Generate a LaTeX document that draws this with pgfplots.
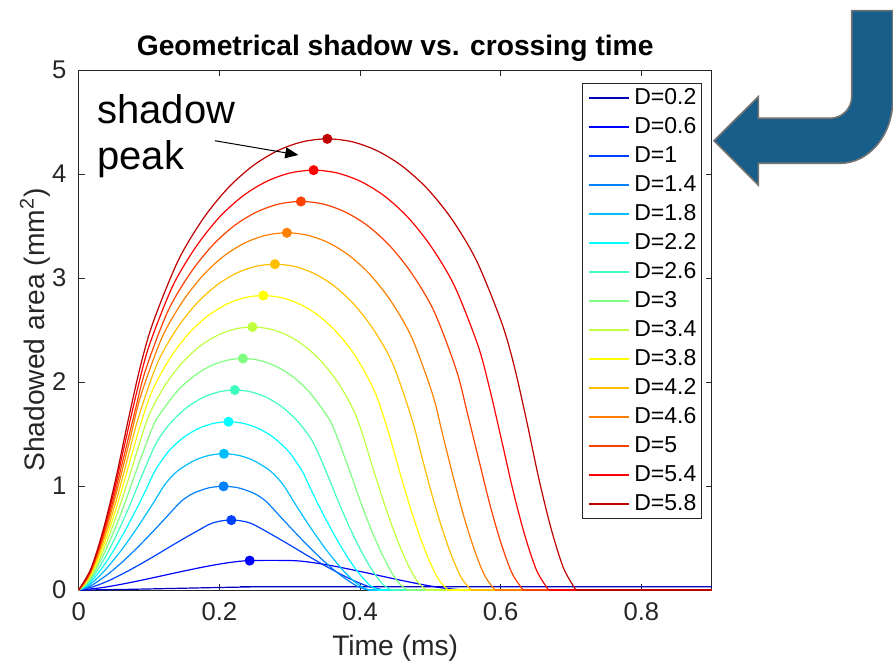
\documentclass[border=0pt]{standalone}
\usepackage{fontspec}
\setmainfont{Liberation Sans}
\usepackage{pgfplots}
\pgfplotsset{compat=1.18}
\usetikzlibrary{arrows.meta}
\definecolor{c1}{rgb}{0,0,0.75}
\definecolor{c2}{rgb}{0,0,1}
\definecolor{c3}{rgb}{0,0.25,1}
\definecolor{c4}{rgb}{0,0.5,1}
\definecolor{c5}{rgb}{0,0.75,1}
\definecolor{c6}{rgb}{0,1,1}
\definecolor{c7}{rgb}{0.25,1,0.75}
\definecolor{c8}{rgb}{0.5,1,0.5}
\definecolor{c9}{rgb}{0.75,1,0.25}
\definecolor{c10}{rgb}{1,1,0}
\definecolor{c11}{rgb}{1,0.75,0}
\definecolor{c12}{rgb}{1,0.5,0}
\definecolor{c13}{rgb}{1,0.25,0}
\definecolor{c14}{rgb}{1,0,0}
\definecolor{c15}{rgb}{0.75,0,0}
\definecolor{axgray}{rgb}{0.15,0.15,0.15}
\definecolor{arrowblue}{RGB}{24,94,138}
\begin{document}
\begin{tikzpicture}
\begin{axis}[
  at={(0,0)}, anchor=south west,
  scale only axis, width=316.5pt, height=260pt,
  xmin=0, xmax=0.9, ymin=0, ymax=5,
  xtick={0,0.2,0.4,0.6,0.8}, ytick={0,1,2,3,4,5},
  axis line style={axgray, line width=0.5pt},
  major tick style={axgray, line width=0.5pt},
  major tick length=3pt,
  /pgf/number format/assume math mode=true,
  tick label style={font=\fontsize{12.8}{14}\selectfont, text=axgray, inner sep=0pt},
  xticklabel style={anchor=north, yshift=-6pt},
  yticklabel style={anchor=east, xshift=-6pt},
  title={Geometrical shadow vs. crossing time},
  title style={font=\bfseries\fontsize{14.1}{16}\selectfont, inner sep=0pt, at={(axis description cs:0.5,1)}, anchor=base, yshift=1.5pt},
  xlabel={Time (ms)},
  ylabel={Shadowed area (mm\textsuperscript{2})},
  label style={font=\fontsize{14.1}{16}\selectfont, text=axgray, inner sep=0pt},
  xlabel style={at={(axis description cs:0.5,-0.125)}, anchor=base},
  ylabel style={at={(axis description cs:-0.0548,0.5)}, anchor=base},
  legend style={at={(0.9845,0.975)}, anchor=north east, draw=axgray, line width=0.5pt, fill=white,
    font=\fontsize{11.5}{13}\selectfont, inner xsep=2.5pt, inner ysep=2pt, row sep=3.8pt, column sep=2.5pt,
    nodes={inner sep=0pt, text height=8.3pt, text depth=2.4pt}},
  legend cell align=left,
  legend image code/.code={\draw[#1, line width=0.8pt] (0pt,0pt) -- (20pt,0pt);},
  every axis plot/.append style={line width=0.6pt},
]
% D=0.2
\addplot[color=c1, smooth] coordinates {(0,0) (0.0347,0.0023) (0.0694,0.0061) (0.1042,0.0108) (0.1389,0.0157) (0.1736,0.0207) (0.2083,0.0253) (0.2431,0.0291) (0.2778,0.0314) (0.9,0.0314)};
\addlegendentry{D=0.2}
% D=0.6
\addplot[color=c2, smooth] coordinates {(0,0) (0.0304,0.0204) (0.0608,0.0553) (0.0912,0.0968) (0.1216,0.1414) (0.152,0.1859) (0.1823,0.2275) (0.2127,0.2623) (0.2431,0.2827) (0.3039,0.2827) (0.3343,0.2623) (0.3647,0.2275) (0.395,0.1859) (0.4254,0.1414) (0.4558,0.0968) (0.4862,0.0553) (0.5166,0.0204) (0.547,0)};
\addlegendentry{D=0.6}
\addplot[color=c2, forget plot] coordinates {(0.547,0) (0.9,0)};
% D=1
\addplot[color=c3, smooth] coordinates {(0,0) (0.0217,0.034) (0.0434,0.092) (0.0651,0.165) (0.0868,0.245) (0.1085,0.330) (0.1302,0.418) (0.1519,0.504) (0.1736,0.587) (0.186,0.632) (0.1953,0.654) (0.2062,0.668) (0.217,0.672) (0.2278,0.668) (0.2387,0.654) (0.248,0.632) (0.2604,0.587) (0.2821,0.504) (0.3038,0.418) (0.3255,0.330) (0.3472,0.245) (0.3689,0.165) (0.3906,0.092) (0.4123,0.034) (0.434,0)};
\addlegendentry{D=1}
\addplot[color=c3, forget plot] coordinates {(0.434,0) (0.9,0)};
% D=1.4
\addplot[color=c4, smooth] coordinates {(0,0) (0.0103,0.019) (0.0206,0.054) (0.0412,0.150) (0.0618,0.268) (0.0824,0.401) (0.103,0.544) (0.1236,0.693) (0.1437,0.840) (0.1545,0.897) (0.1648,0.936) (0.1854,0.983) (0.206,0.997) (0.2266,0.983) (0.2472,0.936) (0.2575,0.897) (0.2683,0.840) (0.2884,0.693) (0.309,0.544) (0.3296,0.401) (0.3502,0.268) (0.3708,0.150) (0.3914,0.054) (0.4017,0.019) (0.412,0)};
\addlegendentry{D=1.4}
\addplot[color=c4, forget plot] coordinates {(0.412,0) (0.9,0)};
% D=1.8
\addplot[color=c5, smooth] coordinates {(0,0) (0.0103,0.029) (0.0207,0.080) (0.031,0.145) (0.0413,0.221) (0.062,0.395) (0.0826,0.593) (0.1033,0.807) (0.1215,1.004) (0.1342,1.105) (0.1446,1.165) (0.1652,1.248) (0.1859,1.295) (0.2065,1.310) (0.2271,1.295) (0.2478,1.248) (0.2684,1.165) (0.2788,1.105) (0.2915,1.004) (0.3097,0.807) (0.3304,0.593) (0.351,0.395) (0.3717,0.221) (0.382,0.145) (0.3923,0.080) (0.4027,0.029) (0.413,0)};
\addlegendentry{D=1.8}
\addplot[color=c5, forget plot] coordinates {(0.413,0) (0.9,0)};
% D=2.2
\addplot[color=c6, smooth] coordinates {(0,0) (0.01065,0.039) (0.0213,0.110) (0.03195,0.200) (0.0426,0.304) (0.05325,0.420) (0.0639,0.546) (0.07455,0.680) (0.0852,0.820) (0.09585,0.967) (0.1083,1.144) (0.1278,1.334) (0.1491,1.467) (0.1704,1.553) (0.1917,1.602) (0.213,1.618) (0.2343,1.602) (0.2556,1.553) (0.2769,1.467) (0.2982,1.334) (0.3177,1.144) (0.33015,0.967) (0.3408,0.820) (0.35145,0.680) (0.3621,0.546) (0.37275,0.420) (0.3834,0.304) (0.39405,0.200) (0.4047,0.110) (0.41535,0.039) (0.426,0)};
\addlegendentry{D=2.2}
\addplot[color=c6, forget plot] coordinates {(0.426,0) (0.9,0)};
% D=2.6
\addplot[color=c7, smooth] coordinates {(0,0) (0.0111,0.052) (0.0222,0.145) (0.0333,0.263) (0.0444,0.401) (0.0555,0.554) (0.0666,0.720) (0.0777,0.897) (0.0888,1.083) (0.111,1.423) (0.1332,1.626) (0.1554,1.763) (0.1776,1.854) (0.1998,1.906) (0.222,1.923) (0.2442,1.906) (0.2664,1.854) (0.2886,1.763) (0.3108,1.626) (0.333,1.423) (0.3552,1.083) (0.3663,0.897) (0.3774,0.720) (0.3885,0.554) (0.3996,0.401) (0.4107,0.263) (0.4218,0.145) (0.4329,0.052) (0.444,0)};
\addlegendentry{D=2.6}
\addplot[color=c7, forget plot] coordinates {(0.444,0) (0.9,0)};
% D=3
\addplot[color=c8, smooth] coordinates {(0,0) (0.0117,0.066) (0.0234,0.184) (0.035,0.335) (0.0467,0.510) (0.0584,0.705) (0.07,0.918) (0.0817,1.144) (0.1051,1.565) (0.1168,1.703) (0.1401,1.911) (0.1635,2.056) (0.1868,2.152) (0.2102,2.208) (0.2335,2.226) (0.2568,2.208) (0.2802,2.152) (0.3035,2.056) (0.3269,1.911) (0.3502,1.703) (0.3619,1.565) (0.3853,1.144) (0.397,0.918) (0.4086,0.705) (0.4203,0.510) (0.432,0.335) (0.4436,0.184) (0.4553,0.066) (0.467,0)};
\addlegendentry{D=3}
\addplot[color=c8, forget plot] coordinates {(0.467,0) (0.9,0)};
% D=3.4
\addplot[color=c9, smooth] coordinates {(0,0) (0.01235,0.081) (0.0247,0.228) (0.03705,0.415) (0.0494,0.633) (0.06175,0.875) (0.0741,1.139) (0.0988,1.661) (0.1235,1.976) (0.1482,2.192) (0.1729,2.347) (0.1976,2.450) (0.2223,2.510) (0.247,2.529) (0.2717,2.510) (0.2964,2.450) (0.3211,2.347) (0.3458,2.192) (0.3705,1.976) (0.3952,1.661) (0.4199,1.139) (0.43225,0.875) (0.4446,0.633) (0.45695,0.415) (0.4693,0.228) (0.48165,0.081) (0.494,0)};
\addlegendentry{D=3.4}
\addplot[color=c9, forget plot] coordinates {(0.494,0) (0.9,0)};
% D=3.8
\addplot[color=c10, smooth] coordinates {(0,0) (0.0131,0.099) (0.02625,0.277) (0.0394,0.504) (0.0525,0.769) (0.0656,1.065) (0.0865,1.560) (0.105,1.922) (0.1313,2.245) (0.1575,2.474) (0.1838,2.637) (0.21,2.747) (0.2363,2.811) (0.2625,2.831) (0.2888,2.811) (0.315,2.747) (0.3413,2.637) (0.3675,2.474) (0.3938,2.245) (0.42,1.922) (0.4385,1.560) (0.4594,1.065) (0.4725,0.769) (0.4856,0.504) (0.4988,0.277) (0.5119,0.099) (0.525,0)};
\addlegendentry{D=3.8}
\addplot[color=c10, forget plot] coordinates {(0.525,0) (0.9,0)};
% D=4.2
\addplot[color=c11, smooth] coordinates {(0,0) (0.01395,0.118) (0.0279,0.331) (0.04185,0.602) (0.0558,0.918) (0.06975,1.271) (0.08455,1.650) (0.1116,2.177) (0.1395,2.512) (0.1674,2.753) (0.1953,2.926) (0.2232,3.043) (0.2511,3.111) (0.279,3.133) (0.3069,3.111) (0.3348,3.043) (0.3627,2.926) (0.3906,2.753) (0.4185,2.512) (0.4464,2.177) (0.47345,1.650) (0.48825,1.271) (0.5022,0.918) (0.51615,0.602) (0.5301,0.331) (0.54405,0.118) (0.558,0)};
\addlegendentry{D=4.2}
\addplot[color=c11, forget plot] coordinates {(0.558,0) (0.9,0)};
% D=4.6
\addplot[color=c12, smooth] coordinates {(0,0) (0.0148,0.139) (0.0296,0.389) (0.0444,0.708) (0.0592,1.080) (0.074,1.480) (0.0888,1.880) (0.1184,2.427) (0.148,2.777) (0.1776,3.032) (0.2072,3.215) (0.2368,3.339) (0.2664,3.411) (0.296,3.435) (0.3256,3.411) (0.3552,3.339) (0.3848,3.215) (0.4144,3.032) (0.444,2.777) (0.4736,2.427) (0.5032,1.880) (0.518,1.480) (0.5328,1.080) (0.5476,0.708) (0.5624,0.389) (0.5772,0.139) (0.592,0)};
\addlegendentry{D=4.6}
\addplot[color=c12, forget plot] coordinates {(0.592,0) (0.9,0)};
% D=5
\addplot[color=c13, smooth] coordinates {(0,0) (0.0158,0.161) (0.0316,0.452) (0.0474,0.823) (0.0632,1.255) (0.0790,1.690) (0.0948,2.110) (0.1264,2.675) (0.158,3.040) (0.1896,3.309) (0.2212,3.503) (0.2528,3.634) (0.2844,3.711) (0.316,3.736) (0.3476,3.711) (0.3792,3.634) (0.4108,3.503) (0.4424,3.309) (0.474,3.040) (0.5056,2.675) (0.5372,2.110) (0.5530,1.690) (0.5688,1.255) (0.5846,0.823) (0.6004,0.452) (0.6162,0.161) (0.632,0)};
\addlegendentry{D=5}
\addplot[color=c13, forget plot] coordinates {(0.632,0) (0.9,0)};
% D=5.4
\addplot[color=c14, smooth] coordinates {(0,0) (0.0167,0.185) (0.0334,0.519) (0.0501,0.946) (0.0668,1.443) (0.0835,1.930) (0.1002,2.350) (0.1336,2.922) (0.167,3.303) (0.2004,3.587) (0.2338,3.791) (0.2672,3.929) (0.3006,4.010) (0.334,4.037) (0.3674,4.010) (0.4008,3.929) (0.4342,3.791) (0.4676,3.587) (0.501,3.303) (0.5344,2.922) (0.5678,2.350) (0.5845,1.930) (0.6012,1.443) (0.6179,0.946) (0.6346,0.519) (0.6513,0.185) (0.668,0)};
\addlegendentry{D=5.4}
\addplot[color=c14, forget plot] coordinates {(0.668,0) (0.9,0)};
% D=5.8
\addplot[color=c15, smooth] coordinates {(0,0) (0.0177,0.211) (0.0354,0.592) (0.0530,1.078) (0.0707,1.645) (0.0884,2.170) (0.1061,2.580) (0.1414,3.167) (0.1768,3.569) (0.2121,3.864) (0.2475,4.078) (0.2828,4.224) (0.3182,4.310) (0.3535,4.338) (0.3888,4.310) (0.4242,4.224) (0.4595,4.078) (0.4949,3.864) (0.5302,3.569) (0.5656,3.167) (0.6009,2.580) (0.6186,2.170) (0.6363,1.645) (0.6540,1.078) (0.6716,0.592) (0.6893,0.211) (0.707,0)};
\addlegendentry{D=5.8}
\addplot[color=c15, forget plot] coordinates {(0.707,0) (0.9,0)};
% peak dots
\addplot[only marks, mark=*, mark size=2.2pt, color=c2, forget plot] coordinates {(0.2431,0.2827)};
\addplot[only marks, mark=*, mark size=2.2pt, color=c3, forget plot] coordinates {(0.217,0.672)};
\addplot[only marks, mark=*, mark size=2.2pt, color=c4, forget plot] coordinates {(0.206,0.997)};
\addplot[only marks, mark=*, mark size=2.2pt, color=c5, forget plot] coordinates {(0.2065,1.310)};
\addplot[only marks, mark=*, mark size=2.2pt, color=c6, forget plot] coordinates {(0.213,1.618)};
\addplot[only marks, mark=*, mark size=2.2pt, color=c7, forget plot] coordinates {(0.222,1.923)};
\addplot[only marks, mark=*, mark size=2.2pt, color=c8, forget plot] coordinates {(0.2335,2.226)};
\addplot[only marks, mark=*, mark size=2.2pt, color=c9, forget plot] coordinates {(0.247,2.529)};
\addplot[only marks, mark=*, mark size=2.2pt, color=c10, forget plot] coordinates {(0.2625,2.831)};
\addplot[only marks, mark=*, mark size=2.2pt, color=c11, forget plot] coordinates {(0.279,3.133)};
\addplot[only marks, mark=*, mark size=2.2pt, color=c12, forget plot] coordinates {(0.296,3.435)};
\addplot[only marks, mark=*, mark size=2.2pt, color=c13, forget plot] coordinates {(0.316,3.736)};
\addplot[only marks, mark=*, mark size=2.2pt, color=c14, forget plot] coordinates {(0.334,4.037)};
\addplot[only marks, mark=*, mark size=2.2pt, color=c15, forget plot] coordinates {(0.3535,4.338)};
% annotation
\node[anchor=base west, inner sep=0pt, font=\fontsize{20}{24}\selectfont] at (axis cs:0.026,4.49) {shadow};
\node[anchor=base west, inner sep=0pt, font=\fontsize{20}{24}\selectfont] at (axis cs:0.026,4.04) {peak};
\draw[line width=0.5pt, -{Triangle[length=6.5pt,width=5.5pt]}] (axis cs:0.1937,4.32) -- (axis cs:0.3122,4.183);
\end{axis}
\begin{scope}[shift={(-39.35pt,295pt)}, x=0.5pt, y=-0.5pt]
\filldraw[fill=arrowblue, draw=black!55, line width=0.8pt]
  (851.7,10.7) -- (892.7,10.7) -- (892.7,100)
  .. controls (892.7,134.9) and (869.1,163.3) .. (840,163.3)
  -- (758.3,163.3) -- (758.3,185) -- (714,140.7) -- (758.3,96.7) -- (758.3,118.3) -- (830,118.3)
  .. controls (842,118.3) and (851.7,108.6) .. (851.7,96.7) -- cycle;
\pgfresetboundingbox
\path (0,0) rectangle (893,664);
\end{scope}
\end{tikzpicture}
\end{document}
